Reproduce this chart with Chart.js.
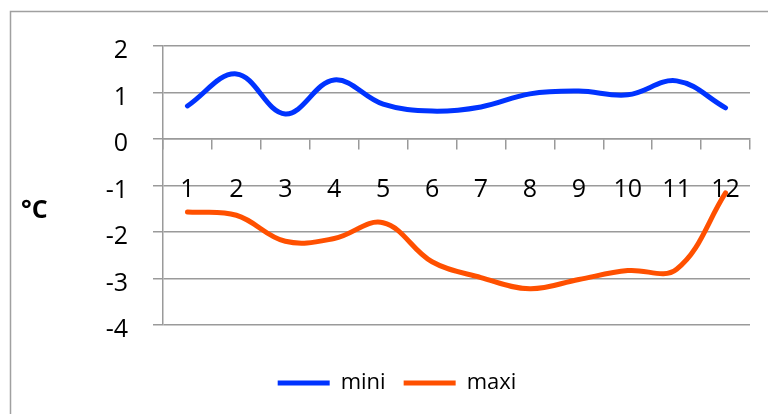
<!DOCTYPE html>
<html>
<head>
<meta charset="utf-8">
<script src="https://cdn.jsdelivr.net/npm/chart.js@4.4.1/dist/chart.umd.min.js"></script>
<style>
  html, body { margin: 0; padding: 0; background: #fff; }
  #wrap { width: 768px; height: 414px; position: relative; }
</style>
</head>
<body>
<div id="wrap"><canvas id="chart"></canvas></div>
<script>
let months = ['1', '2', '3', '4', '5', '6', '7', '8', '9', '10', '11', '12'];
let mini = [0.71, 1.40, 0.54, 1.27, 0.75, 0.60, 0.69, 0.97, 1.03, 0.95, 1.25, 0.67];
let maxi = [-1.57, -1.64, -2.20, -2.14, -1.80, -2.64, -2.98, -3.22, -3.02, -2.83, -2.80, -1.16];

let blue = '#0033ff';
let orange = '#ff5000';
let gridGrey = '#9a9a9a';

Chart.defaults.font.family = "'Open Sans'";
Chart.defaults.color = '#000';

// grey frame around the whole chart (runs off the right and bottom edges)
let framePlugin = {
  id: 'frame',
  beforeDraw(chart) {
    let ctx = chart.ctx;
    ctx.save();
    ctx.strokeStyle = '#a0a0a0';
    ctx.lineWidth = 1.5;
    ctx.strokeRect(10.5, 11.5, 820, 520);
    ctx.restore();
  }
};

// horizontal "°C" unit label left of the y axis
let unitPlugin = {
  id: 'unit',
  afterDraw(chart) {
    let ctx = chart.ctx;
    ctx.save();
    ctx.font = "bold 25px 'Open Sans'";
    ctx.fillStyle = '#000';
    ctx.textAlign = 'left';
    ctx.textBaseline = 'middle';
    ctx.fillText('°C', 21, 211);
    ctx.restore();
  }
};

new Chart('chart', {
  type: 'line',
  data: {
    labels: months,
    datasets: [
      {
        label: 'mini',
        data: mini,
        borderColor: blue,
        backgroundColor: blue,
        borderWidth: 5,
        borderCapStyle: 'round',
        pointRadius: 0,
        tension: 0.38
      },
      {
        label: 'maxi',
        data: maxi,
        borderColor: orange,
        backgroundColor: orange,
        borderWidth: 5,
        borderCapStyle: 'round',
        pointRadius: 0,
        tension: 0.38
      }
    ]
  },
  options: {
    responsive: true,
    maintainAspectRatio: false,
    animation: false,
    layout: {
      padding: {left: 44, right: 18, top: 46, bottom: 10}
    },
    scales: {
      x: {
        position: {y: 0},
        offset: true,
        grid: {
          offset: true,
          drawOnChartArea: false,
          tickLength: 10,
          color: gridGrey,
          lineWidth: 1.5
        },
        border: {display: true, color: gridGrey, width: 1.5},
        ticks: {
          font: {size: 25},
          padding: 26,
          maxRotation: 0,
          autoSkip: false
        }
      },
      y: {
        min: -4,
        max: 2,
        afterFit: scale => { scale.width = 119; },
        grid: {
          tickLength: 10,
          color: gridGrey,
          lineWidth: 1.5
        },
        border: {display: true, color: gridGrey, width: 1.5},
        ticks: {
          stepSize: 1,
          font: {size: 25},
          padding: 25,
          labelOffset: 5
        }
      }
    },
    plugins: {
      legend: {
        position: 'bottom',
        // empty legend title only used as a spacer above the items
        title: {display: true, text: '', font: {size: 10}, padding: {top: 17, bottom: 0}},
        labels: {
          boxWidth: 52,
          boxHeight: 5,
          padding: 18,
          font: {size: 22},
          color: '#000',
          useBorderRadius: true,
          borderRadius: 2.5,
          generateLabels: chart => chart.data.datasets.map((ds, i) => ({
            text: ds.label,
            fillStyle: ds.borderColor,
            strokeStyle: ds.borderColor,
            lineWidth: 0,
            hidden: false,
            datasetIndex: i
          }))
        }
      },
      tooltip: {enabled: false}
    }
  },
  plugins: [framePlugin, unitPlugin]
});
</script>
</body>
</html>
